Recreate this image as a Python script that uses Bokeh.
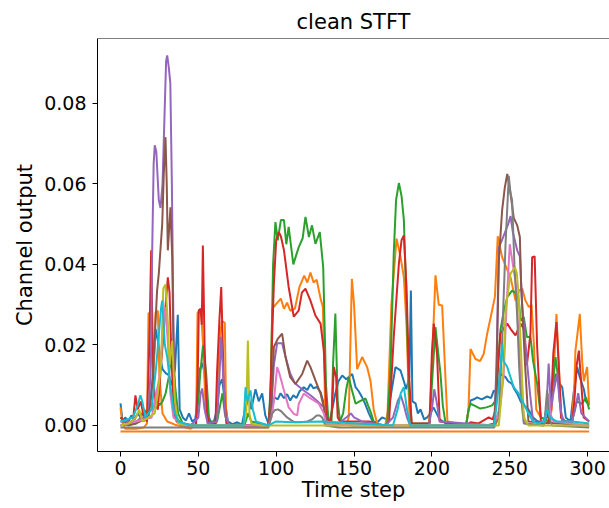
from bokeh.plotting import figure
from bokeh.models import Range1d, FixedTicker, Span, NumeralTickFormatter
from bokeh.embed import file_html
from bokeh.resources import INLINE

# (time step, channel output) pairs, one list per channel
ch_blue = [(0, 0.0055), (1.5, 0.0005), (3, 0.002), (5, 0.001), (7, 0.0025), (9, 0.0015), (11, 0.003),
           (13, 0.002), (15, 0.004), (17, 0.003), (19, 0.006), (21, 0.012), (22.5, 0.024), (24, 0.021),
           (25.5, 0.017), (27, 0.014), (29, 0.013), (31, 0.0125), (33, 0.01), (35, 0.014), (36.8, 0.0275),
           (38, 0.004), (40, 0.002), (42, 0.0012), (44, 0.003), (46, 0.001), (48, 0.0015), (49.5, 0.006),
           (51, 0.014), (52.5, 0.0155), (54, 0.013), (56, 0.003), (58, 0.0008), (60, 0.001), (62, 0.004),
           (63.5, 0.01), (65.3, 0.0115), (67, 0.006), (69, 0.001), (72, 0.0003), (75, 0.0008), (78, 0.0002),
           (80, 0.004), (82.4, 0.007), (84, 0.004), (86.7, 0.009), (88.8, 0.006), (91, 0.008), (93, 0.0025),
           (95, 0.0005), (97, 0.004), (99, 0.007), (101, 0.0065), (102.8, 0.008), (105, 0.0068), (107, 0.0078),
           (109, 0.0062), (111, 0.0075), (113, 0.0068), (115, 0.0085), (117.7, 0.0095), (120, 0.0088),
           (122, 0.0103), (124, 0.0092), (126, 0.0096), (128.5, 0.0083), (130.6, 0.0054), (132, 0.001),
           (134, 0.0005), (136, 0.004), (138, 0.008), (140, 0.011), (142.4, 0.0124), (145, 0.0115),
           (148.8, 0.0128), (151, 0.0095), (153, 0.0085), (155.2, 0.007), (157, 0.0055), (159.5, 0.003),
           (162, 0.001), (165, 0.0008), (168, 0.002), (171, 0.0015), (173, 0.006), (176.6, 0.0145),
           (179.8, 0.0137), (182, 0.011), (183.5, 0.009), (185.5, 0.012), (186.5, 0.0335), (187.5, 0.006),
           (189.5, 0.0055), (191, 0.003), (192.7, 0.004), (195, 0.0015), (197, 0.002), (199, 0.003),
           (201, 0.0045), (203, 0.003), (205, 0.0015), (207, 0.001), (210, 0.0003), (214, 0.0005),
           (218, 0.0002), (222, 0.0004), (224.8, 0.0062), (227, 0.0065), (229, 0.007), (232, 0.0065),
           (235.5, 0.0072), (238, 0.0068), (239.8, 0.0087), (242, 0.008), (244, 0.0128), (247.3, 0.012),
           (249, 0.011), (251.5, 0.0103), (253, 0.009), (254.8, 0.0079), (257, 0.006), (259, 0.005),
           (262, 0.004), (265, 0.002), (268, 0.001), (271, 0.0005), (274, 0.002), (277, 0.008),
           (279.4, 0.0128), (281, 0.011), (283.7, 0.0095), (286, 0.002), (289, 0.001), (291, 0.008),
           (293.3, 0.0145), (295, 0.012), (297.6, 0.009), (299, 0.006), (301, 0.005)]

ch_orange = [(0, 0.0045), (1, 0.001), (3, -0.0008), (10, -0.0008), (15, -0.0005), (17, 0.0005), (18, 0.028),
             (19.5, 0.027), (21, 0.012), (22.5, 0.028), (24, 0.0285), (25, 0.012), (27, 0.003), (30, 0.001),
             (35, 0.0002), (45, -0.0008), (48.5, 0.0), (49.5, 0.028), (51, 0.0285), (52, 0.027), (53, 0.02),
             (54.5, 0.006), (56, 0.0005), (61.5, 0.0005), (62.5, 0.012), (63.5, 0.02), (65, 0.026),
             (67, 0.0255), (67.8, 0.004), (69, 0.0), (80, -0.0005), (95, -0.0005), (96.2, 0.003),
             (97.5, 0.029), (100, 0.0302), (103, 0.0315), (105, 0.029), (107, 0.0305), (109, 0.0285),
             (112, 0.029), (115, 0.0345), (118, 0.0372), (120, 0.0355), (122, 0.038), (124, 0.0355),
             (126, 0.0362), (128.5, 0.0315), (130, 0.0294), (131.5, 0.004), (133, 0.0), (140, 0.0),
             (145, 0.0002), (146.6, 0.002), (148.6, 0.0364), (150, 0.03), (152, 0.014), (155.2, 0.017),
             (158.4, 0.0145), (160.6, 0.011), (162.7, 0.0037), (165, 0.0003), (170, 0.0), (171.5, 0.003),
             (174, 0.03), (177.3, 0.0464), (179.8, 0.042), (182, 0.0368), (183.7, 0.025), (185.5, 0.003),
             (187, 0.0), (198, 0.0), (199, 0.005), (202.3, 0.0373), (204.4, 0.03), (206.6, 0.0298),
             (208, 0.0178), (210, 0.001), (222, 0.0), (223.5, 0.004), (224.8, 0.019), (228, 0.0165),
             (231, 0.016), (233.3, 0.0178), (235.5, 0.0228), (238.7, 0.0286), (240.5, 0.032), (242.3, 0.047),
             (245.1, 0.0418), (248, 0.039), (250.5, 0.0368), (253.7, 0.031), (256, 0.0335), (258, 0.034),
             (260.1, 0.031), (262.3, 0.0294), (264, 0.03), (265.5, 0.0203), (267, 0.004), (270, 0.002),
             (275, 0.001), (277, 0.004), (278.5, 0.015), (280, 0.0277), (281.5, 0.015), (283, 0.003),
             (285, 0.001), (290, 0.001), (291.5, 0.01), (292.2, 0.0186), (295, 0.0277), (296.5, 0.016),
             (297.6, 0.011), (299.7, 0.0145), (301, 0.005)]

ch_green = [(0, 0.002), (5, 0.0), (10, 0.0005), (13, 0.002), (15, 0.001), (17, 0.003), (19, 0.006),
            (21, 0.004), (23, 0.0065), (25, 0.005), (27, 0.006), (29, 0.008), (31, 0.012), (33, 0.0192),
            (35, 0.01), (37, 0.003), (40, 0.0005), (48, 0.0), (50, 0.006), (51, 0.012), (53, 0.0199),
            (55, 0.013), (57, 0.001), (62, 0.001), (64, 0.005), (65.5, 0.008), (67, 0.003), (69, 0.0),
            (80, 0.0005), (82, 0.003), (84, 0.001), (95, 0.0), (96.5, 0.01), (98, 0.04), (99.5, 0.0505),
            (101, 0.046), (103, 0.051), (105, 0.051), (106.5, 0.045), (108, 0.0493), (111, 0.04),
            (113, 0.0425), (114.5, 0.0443), (117, 0.0465), (118.8, 0.0518), (121, 0.0468), (123, 0.0497),
            (125.2, 0.0451), (128, 0.048), (130.2, 0.0393), (132, 0.01), (133.6, 0.001), (135.5, 0.001),
            (136.5, 0.015), (138, 0.0278), (139.5, 0.006), (141, 0.001), (143, 0.003), (145, 0.009),
            (146.6, 0.012), (148.5, 0.009), (151, 0.0054), (153.5, 0.006), (157.4, 0.0067), (159, 0.005),
            (161, 0.003), (163, 0.0005), (170, 0.0), (171.3, 0.0005), (173.4, 0.0137), (175.5, 0.0427),
            (177, 0.056), (178.8, 0.0602), (180.5, 0.057), (182, 0.051), (183.7, 0.03), (185.2, 0.0095),
            (187, 0.0005), (198.5, 0.0005), (200, 0.01), (202.3, 0.0244), (203.5, 0.02), (205.5, 0.0129),
            (207, 0.005), (209, 0.0), (222, 0.0), (223.5, 0.004), (224.8, 0.0054), (228, 0.0048),
            (231, 0.0042), (235, 0.0045), (238.7, 0.005), (240.5, 0.006), (242, 0.012), (244, 0.0236),
            (246, 0.028), (248.4, 0.0319), (251.5, 0.0335), (253.5, 0.033), (255.8, 0.031), (257, 0.026),
            (259, 0.0269), (261, 0.022), (263.3, 0.022), (265, 0.016), (267.6, 0.0104), (270, 0.002),
            (275, 0.001), (277, 0.008), (279.4, 0.017), (281, 0.012), (283, 0.002), (286, 0.001),
            (290, 0.001), (293, 0.006), (296.5, 0.0054), (299, 0.007), (301, 0.004)]

ch_red = [(0, 0.002), (5, 0.0005), (8, 0.001), (9.6, 0.0075), (11, 0.004), (13, 0.006), (15, 0.002),
          (17, 0.001), (18.5, 0.02), (19.7, 0.0435), (21, 0.012), (22.5, 0.005), (24, 0.004), (26, 0.015),
          (27.5, 0.022), (29, 0.03), (30.4, 0.0368), (31.5, 0.033), (32.5, 0.02), (34, 0.004), (36, 0.001),
          (40, 0.0), (48.5, 0.0), (49.5, 0.01), (50.3, 0.0286), (51.5, 0.029), (52.2, 0.025), (52.9, 0.0447),
          (54, 0.02), (55.5, 0.003), (57, 0.0005), (61, 0.0005), (62, 0.013), (63.5, 0.026), (64.7, 0.0344),
          (66.4, 0.0095), (68, 0.0005), (70, 0.0), (95, 0.0), (96, 0.005), (98.5, 0.035), (100, 0.046),
          (101.7, 0.048), (103, 0.047), (105, 0.0435), (108, 0.0344), (111.3, 0.027), (114.5, 0.0286),
          (116.5, 0.033), (118.8, 0.034), (122, 0.031), (125.2, 0.0273), (128.5, 0.0253), (130.6, 0.0186),
          (132.5, 0.002), (135, 0.0005), (136, 0.005), (137, 0.0145), (138.5, 0.012), (139.5, 0.002),
          (141, 0.001), (150, 0.001), (160, 0.001), (165, 0.0), (170, 0.0), (172.5, 0.001), (175.5, 0.022),
          (178.8, 0.0402), (180.5, 0.046), (182, 0.0472), (183.7, 0.0344), (185.2, 0.0137), (187, 0.0005),
          (198.5, 0.0005), (200, 0.018), (201.2, 0.0253), (203.3, 0.0178), (205, 0.001), (222, 0.0),
          (224.8, 0.0008), (230, 0.0005), (236.5, 0.002), (239, 0.0015), (241, 0.004), (242.5, 0.015),
          (244, 0.0228), (246, 0.024), (248.4, 0.0253), (250.5, 0.024), (253.7, 0.0224), (256.9, 0.0253),
          (259, 0.024), (261, 0.015), (263.3, 0.0228), (264.4, 0.0418), (266, 0.042), (267.6, 0.0195),
          (270, 0.001), (275, 0.0005), (276.5, 0.005), (278, 0.018), (280, 0.0257), (281.5, 0.015),
          (283, 0.002), (285, 0.0005), (290, 0.0005), (291.5, 0.006), (293, 0.015), (294.4, 0.0186),
          (296, 0.01), (297.5, 0.002), (301, 0.001)]

ch_purple = [(0, 0.001), (10, 0.001), (15, 0.002), (18, 0.003), (19.5, 0.015), (20.3, 0.042), (21.3, 0.065),
             (22, 0.0696), (23, 0.068), (24.6, 0.056), (25.7, 0.054), (27, 0.06), (28.5, 0.08), (29.3, 0.0905),
             (30, 0.0919), (31, 0.089), (32, 0.085), (33, 0.06), (34, 0.025), (35, 0.004), (37, 0.001),
             (45, 0.0), (50, 0.002), (51.5, 0.008), (52.5, 0.0092), (54, 0.004), (56, 0.0005), (62, 0.001),
             (63.5, 0.012), (64.7, 0.022), (66, 0.012), (67.5, 0.002), (70, 0.0), (95, 0.0), (97, 0.005),
             (98.5, 0.015), (100.6, 0.0204), (103.8, 0.0204), (106, 0.017), (109, 0.0129), (112, 0.0105),
             (117.7, 0.0087), (122, 0.0075), (126, 0.0062), (130.6, 0.0045), (132.5, 0.0005), (140, 0.0005),
             (145, 0.002), (148, 0.003), (150, 0.002), (155, 0.001), (170, 0.0), (175, 0.002), (178, 0.006),
             (180, 0.0075), (182, 0.005), (184, 0.002), (186, 0.0), (198, 0.0), (200, 0.004), (201.5, 0.009),
             (203, 0.006), (205, 0.001), (240, 0.0), (241.5, 0.015), (243, 0.0443), (245, 0.046), (247, 0.048),
             (249, 0.05), (250.5, 0.052), (252, 0.048), (254.8, 0.0435), (256.5, 0.042), (258, 0.03),
             (261, 0.016), (263, 0.008), (265, 0.001), (272, 0.001), (273.5, 0.004), (275, 0.0154),
             (276.5, 0.004), (278, 0.008), (280.5, 0.0129), (282, 0.006), (284, 0.001), (290, 0.001),
             (292, 0.004), (294, 0.008), (296, 0.003), (301, 0.001)]

ch_brown = [(0, 0.0), (10, 0.0005), (18, 0.002), (20, 0.008), (21.5, 0.018), (23.5, 0.0335), (24.6, 0.0377),
            (26.8, 0.05), (27.8, 0.0625), (28.9, 0.0716), (29.7, 0.06), (30.4, 0.0435), (32.1, 0.0542),
            (33.2, 0.0418), (34.2, 0.015), (35.5, 0.002), (40, 0.0), (95, 0.0), (97, 0.006), (98.5, 0.0195),
            (101, 0.0215), (103.8, 0.0228), (106, 0.017), (109, 0.012), (112.4, 0.0103), (116.7, 0.0128),
            (119.9, 0.0161), (122, 0.0145), (125.2, 0.0112), (128.5, 0.0079), (130.6, 0.0045), (132, 0.0005),
            (150, 0.0), (235, 0.0), (240, 0.0005), (241.3, 0.0087), (243, 0.041), (245.1, 0.0534),
            (246.8, 0.059), (248.4, 0.0625), (250.5, 0.0576), (252.6, 0.0515), (254.8, 0.0497),
            (256.5, 0.0468), (257.3, 0.035), (259.7, 0.016), (262, 0.001), (301, 0.0)]

ch_pink = [(0, 0.0), (20, 0.002), (25, 0.012), (27, 0.022), (28.9, 0.0294), (30.5, 0.02), (32, 0.008),
           (34, 0.002), (40, 0.0), (95, 0.0), (97, 0.002), (98.5, 0.006), (100.6, 0.0145), (102, 0.013),
           (105, 0.0087), (108, 0.0045), (111.3, 0.0029), (113.5, 0.0025), (114.5, 0.0054), (117.7, 0.0079),
           (121, 0.007), (124.2, 0.0062), (127.4, 0.0054), (130.6, 0.003), (132, 0.0005), (150, 0.0),
           (240, 0.0), (244, 0.005), (246, 0.012), (248, 0.03), (250, 0.045), (252, 0.04), (254, 0.035),
           (256, 0.02), (258, 0.005), (260, 0.0005), (272, 0.0), (274, 0.004), (275, 0.008), (276, 0.003),
           (278, 0.001), (301, 0.0)]

ch_gray = [(0, -0.0005), (95, -0.0005), (97.4, 0.0029), (99, 0.0038), (101, 0.004), (103, 0.0036),
           (105, 0.0028), (107, 0.002), (110, 0.0012), (112, 0.0008), (116, 0.0008), (120, 0.001),
           (123, 0.0015), (126, 0.0025), (128, 0.0025), (129.5, 0.002), (131.5, 0.0), (140, -0.0005),
           (240, -0.0005), (243, 0.002), (245, 0.02), (247.3, 0.045), (249.4, 0.062), (250.5, 0.0576),
           (251.5, 0.056), (253, 0.04), (254.8, 0.027), (256, 0.015), (257, 0.008), (259, 0.0005),
           (272, 0.0), (273, 0.004), (274, 0.0087), (275, 0.003), (277, 0.0), (301, -0.0005)]

ch_olive = [(0, 0.0), (5, 0.0005), (10, 0.002), (12, 0.004), (14, 0.001), (18, 0.002), (22, 0.003),
            (24, 0.008), (26, 0.015), (27.5, 0.034), (28.9, 0.035), (30.5, 0.025), (31.5, 0.015),
            (33.2, 0.021), (35, 0.006), (37, 0.0005), (45, 0.0), (79, 0.0), (80.8, 0.003), (81.8, 0.0211),
            (82.8, 0.003), (84, 0.0005), (90, 0.0), (243, 0.0), (245.8, 0.013), (247.3, 0.0286),
            (250.5, 0.0377), (253.3, 0.0393), (254.5, 0.038), (255.8, 0.0319), (257.3, 0.018), (259, 0.002),
            (262, 0.0), (301, 0.0)]

ch_cyan = [(0, 0.001), (8, 0.002), (11, 0.005), (12.8, 0.0075), (14, 0.006), (16, 0.002), (20, 0.004),
           (23, 0.015), (26, 0.029), (26.8, 0.031), (28.5, 0.02), (30, 0.017), (32, 0.01), (34, 0.004),
           (37, 0.001), (45, 0.0), (79, 0.0), (80.3, 0.0095), (81.5, 0.006), (83.5, 0.0087), (85, 0.004),
           (87, 0.001), (95, 0.0), (100, 0.001), (110, 0.0008), (130, 0.001), (175, 0.0), (178, 0.004),
           (180, 0.008), (182, 0.0095), (184, 0.004), (186, 0.0), (240, 0.0), (243, 0.01), (245.1, 0.0203),
           (246, 0.016), (248.4, 0.0145), (252.6, 0.0095), (255.8, 0.0079), (259, 0.0054), (262, 0.003),
           (265, 0.001), (268, 0.0005), (272, 0.001), (274, 0.004), (276, 0.002), (280, 0.001), (290, 0.001),
           (301, 0.0005)]

ch_floor = [(0, -0.0015), (301, -0.0015)]

channels = [ch_blue, ch_orange, ch_green, ch_red, ch_purple, ch_brown, ch_pink, ch_gray, ch_olive, ch_cyan,
            ch_floor]
colors = ["#1f77b4", "#ff7f0e", "#2ca02c", "#d62728", "#9467bd", "#8c564b", "#e377c2", "#7f7f7f",
          "#bcbd22", "#17becf", "#ff7f0e"]

x_ticks = [0, 50, 100, 150, 200, 250, 300]
y_ticks = [0.0, 0.02, 0.04, 0.06, 0.08]

Y_TOP = 0.0961
p = figure(width=609, height=508, output_backend="svg", toolbar_location=None,
           x_range=Range1d(-14.77, 314.07), y_range=Range1d(-0.00646, Y_TOP),
           min_border_left=97, min_border_right=0, min_border_top=38, min_border_bottom=57,
           title="clean STFT")

for ch, c in zip(channels, colors):
    xs = [a for a, b in ch]
    ys = [b for a, b in ch]
    p.line(xs, ys, line_color=c, line_width=2)

p.add_layout(Span(location=Y_TOP, dimension="width", line_color="black", line_width=1))

p.outline_line_color = None
p.xgrid.visible = False
p.ygrid.visible = False
p.background_fill_color = "white"
p.border_fill_color = "white"

p.title.text_font = "DejaVu Sans"
p.title.text_font_size = "21px"
p.title.text_font_style = "normal"
p.title.align = "center"
p.title.text_color = "black"

FONT = "DejaVu Sans"
for ax in (p.xaxis[0], p.yaxis[0]):
    ax.axis_line_color = "black"
    ax.axis_line_width = 1
    ax.major_tick_line_color = "black"
    ax.major_tick_out = 5
    ax.major_tick_in = 0
    ax.minor_tick_line_color = None
    ax.major_label_text_font = FONT
    ax.major_label_text_font_size = "19px"
    ax.major_label_text_color = "black"
    ax.axis_label_text_font = FONT
    ax.axis_label_text_font_size = "21px"
    ax.axis_label_text_font_style = "normal"
    ax.axis_label_text_color = "black"

p.xaxis.ticker = FixedTicker(ticks=x_ticks)
p.yaxis.ticker = FixedTicker(ticks=y_ticks)
p.yaxis.formatter = NumeralTickFormatter(format="0.00")
p.xaxis.axis_label = "Time step"
p.yaxis.axis_label = "Channel output"
p.xaxis.axis_label_standoff = 0
p.xaxis.major_label_standoff = 4
p.yaxis.major_label_standoff = 6
p.yaxis.axis_label_standoff = 4

open("out.html", "w").write(file_html(p, INLINE))
